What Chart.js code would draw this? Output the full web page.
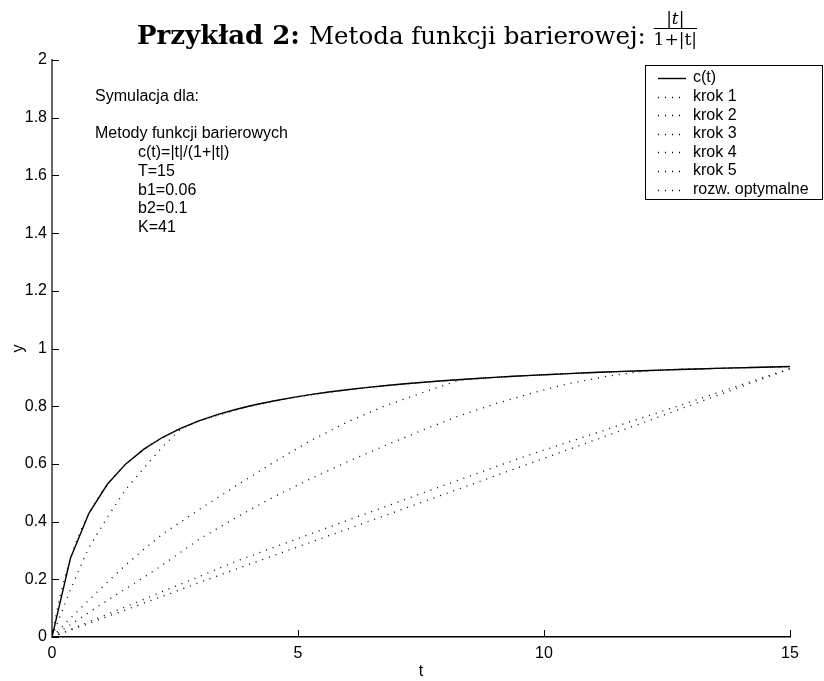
<!DOCTYPE html>
<html>
<head>
<meta charset="utf-8">
<script src="https://cdn.jsdelivr.net/npm/chart.js@4.4.0/dist/chart.umd.min.js"></script>
<style>
  html, body { margin: 0; padding: 0; background: #fff; }
</style>
</head>
<body>
<canvas id="chart" width="824" height="681"></canvas>
<script>
// c(t) sampled at K=41 points
const tC = [0, 0.375, 0.75, 1.125, 1.5, 1.875, 2.25, 2.625, 3, 3.375, 3.75, 4.125, 4.5, 4.875,
  5.25, 5.625, 6, 6.375, 6.75, 7.125, 7.5, 7.875, 8.25, 8.625, 9, 9.375, 9.75, 10.125, 10.5,
  10.875, 11.25, 11.625, 12, 12.375, 12.75, 13.125, 13.5, 13.875, 14.25, 14.625, 15];
const yC = [0, 0.2727, 0.4286, 0.5294, 0.6, 0.6522, 0.6923, 0.7241, 0.75, 0.7714, 0.7895, 0.8049,
  0.8182, 0.8298, 0.84, 0.8491, 0.8571, 0.8644, 0.871, 0.8769, 0.8824, 0.8873, 0.8919, 0.8961,
  0.9, 0.9036, 0.907, 0.9101, 0.913, 0.9158, 0.9184, 0.9208, 0.9231, 0.9252, 0.9273, 0.9292,
  0.931, 0.9327, 0.9344, 0.936, 0.9375];

// iteration steps
const tSteps = [0, 0.375, 0.75, 1.125, 1.5, 1.875, 2.25, 2.625, 3, 3.75, 4.5, 5.25, 6, 6.75,
  7.5, 8.25, 9, 9.75, 10.5, 11.25, 12, 12.75, 13.5, 14.25, 15];
const krok1 = [0, 0.024, 0.047, 0.071, 0.094, 0.118, 0.141, 0.165, 0.189, 0.236, 0.282, 0.328,
  0.374, 0.42, 0.466, 0.512, 0.558, 0.604, 0.65, 0.696, 0.742, 0.789, 0.836, 0.883, 0.93];
const krok2 = [0, 0.026, 0.053, 0.079, 0.105, 0.131, 0.158, 0.184, 0.21, 0.263, 0.31, 0.357,
  0.404, 0.45, 0.497, 0.543, 0.589, 0.634, 0.676, 0.718, 0.76, 0.802, 0.845, 0.888, 0.93];
const krok3 = [0, 0.043, 0.085, 0.127, 0.167, 0.208, 0.25, 0.295, 0.34, 0.415, 0.485, 0.548,
  0.607, 0.662, 0.715, 0.765, 0.808, 0.845, 0.878, 0.903, 0.921, 0.929, 0.931, 0.9344, 0.9375];
const krok4 = [0, 0.065, 0.128, 0.19, 0.25, 0.305, 0.357, 0.4, 0.443, 0.525, 0.605, 0.68,
  0.745, 0.8, 0.845, 0.889, 0.9, 0.907, 0.913, 0.9184, 0.9231, 0.9273, 0.931, 0.9344, 0.9375];
const krok5 = [0, 0.165, 0.31, 0.415, 0.512, 0.587, 0.66, 0.722, 0.75, 0.7895, 0.8182, 0.84,
  0.8571, 0.871, 0.8824, 0.8919, 0.9, 0.907, 0.913, 0.9184, 0.9231, 0.9273, 0.931, 0.9344, 0.9375];

// optimal solution on a finer grid
const tOpt = [0, 0.05, 0.1, 0.15, 0.2, 0.3, 0.4, 0.5, 0.625, 0.75, 1, 1.25, 1.5, 2, 2.5, 3, 4,
  5, 6, 7, 8, 9, 10, 11, 12, 13, 14, 15];
const yOpt = [0, 0.0476, 0.0909, 0.1304, 0.1667, 0.2308, 0.2857, 0.3333, 0.3846, 0.4286, 0.5,
  0.5556, 0.6, 0.6667, 0.7143, 0.75, 0.8, 0.8333, 0.8571, 0.875, 0.8889, 0.9, 0.9091, 0.9167,
  0.9231, 0.9286, 0.9333, 0.9375];

const xTicks = [0, 5, 10, 15];
const yTicks = [0, 0.2, 0.4, 0.6, 0.8, 1, 1.2, 1.4, 1.6, 1.8, 2];

const titleBold = 'Przykład 2:';
const titleRest = 'Metoda funkcji barierowej:';
const notes = ['Symulacja dla:', '', 'Metody funkcji barierowych',
  '\tc(t)=|t|/(1+|t|)', '\tT=15', '\tb1=0.06', '\tb2=0.1', '\tK=41'];

const pts = (xs, ys) => xs.map((x, i) => ({ x: x, y: ys[i] }));
const SANS = '"Liberation Sans", Arial, sans-serif';
const SERIF = '"DejaVu Serif", serif';

function dotted(label, data) {
  return {
    label: label, data: data, borderColor: '#000', borderWidth: 1.3,
    borderDash: [1, 6], pointRadius: 0, fill: false, tension: 0, order: 0
  };
}

// ticks drawn inward like the original
const inwardTicks = {
  id: 'inwardTicks',
  afterDatasetsDraw(chart) {
    const { ctx, chartArea, scales: { x, y } } = chart;
    ctx.save();
    ctx.strokeStyle = '#000';
    ctx.lineWidth = 1;
    x.ticks.forEach(t => {
      const px = Math.round(x.getPixelForValue(t.value)) + 0.5;
      ctx.beginPath();
      ctx.moveTo(px, chartArea.bottom);
      ctx.lineTo(px, chartArea.bottom - 7);
      ctx.stroke();
    });
    y.ticks.forEach(t => {
      const py = Math.round(y.getPixelForValue(t.value)) + 0.5;
      ctx.beginPath();
      ctx.moveTo(chartArea.left, py);
      ctx.lineTo(chartArea.left + 7, py);
      ctx.stroke();
    });
    ctx.restore();
  }
};

// legend box in the top right corner
const boxLegend = {
  id: 'boxLegend',
  afterDraw(chart) {
    const ctx = chart.ctx;
    const sets = chart.data.datasets;
    ctx.save();
    ctx.fillStyle = '#fff';
    ctx.fillRect(645, 65, 178, 134);
    ctx.strokeStyle = '#000';
    ctx.lineWidth = 1;
    ctx.strokeRect(645.5, 65.5, 177, 134);
    ctx.font = '16px ' + SANS;
    ctx.textBaseline = 'middle';
    ctx.fillStyle = '#000';
    sets.forEach((ds, i) => {
      const ry = 78 + i * 18.6;
      ctx.beginPath();
      ctx.setLineDash(ds.borderDash || []);
      ctx.lineWidth = ds.borderWidth;
      ctx.moveTo(658, Math.round(ry) + 0.5);
      ctx.lineTo(686, Math.round(ry) + 0.5);
      ctx.stroke();
      ctx.setLineDash([]);
      ctx.fillText(ds.label, 693, ry);
    });
    ctx.restore();
  }
};

// simulation notes and title with the fraction
const textBits = {
  id: 'textBits',
  afterDraw(chart) {
    const ctx = chart.ctx;
    ctx.save();
    ctx.fillStyle = '#000';
    ctx.font = '16px ' + SANS;
    ctx.textBaseline = 'alphabetic';
    notes.forEach((line, i) => {
      const indent = line.startsWith('\t');
      ctx.fillText(line.replace('\t', ''), indent ? 138 : 95, 101 + i * 18.7);
    });

    const fBold = 'bold 26px ' + SERIF;
    const fReg = '24.5px ' + SERIF;
    const fSmall = '17px ' + SERIF;
    ctx.font = fBold;
    const w1 = ctx.measureText(titleBold + ' ').width;
    ctx.font = fReg;
    const w2 = ctx.measureText(titleRest + ' ').width;
    ctx.font = fSmall;
    const wf = ctx.measureText('1+|t|').width;
    const total = w1 + w2 + wf;
    const x0 = 417 - total / 2;
    const base = 44;
    ctx.font = fBold;
    ctx.fillText(titleBold, x0, base);
    ctx.font = fReg;
    ctx.fillText(titleRest, x0 + w1, base);
    const fx = x0 + w1 + w2;
    const cx = fx + wf / 2;
    ctx.textAlign = 'center';
    ctx.font = fSmall;
    ctx.fillText('1+|t|', cx, base + 1);
    ctx.font = 'italic ' + fSmall;
    ctx.fillText('|t|', cx, 24);
    ctx.fillRect(fx, 28, wf, 1);
    ctx.restore();
  }
};

new Chart(document.getElementById('chart'), {
  type: 'line',
  data: {
    datasets: [
      { label: 'c(t)', data: pts(tC, yC), borderColor: '#000', borderWidth: 1.4,
        pointRadius: 0, fill: false, tension: 0, order: 1 },
      dotted('krok 1', pts(tSteps, krok1)),
      dotted('krok 2', pts(tSteps, krok2)),
      dotted('krok 3', pts(tSteps, krok3)),
      dotted('krok 4', pts(tSteps, krok4)),
      dotted('krok 5', pts(tSteps, krok5)),
      dotted('rozw. optymalne', pts(tOpt, yOpt))
    ]
  },
  options: {
    responsive: false,
    animation: false,
    events: [],
    layout: { padding: { top: 60, right: 34, left: 0, bottom: 0 } },
    plugins: { legend: { display: false }, title: { display: false }, tooltip: { enabled: false } },
    scales: {
      x: {
        type: 'linear', min: 0, max: 15,
        afterBuildTicks: s => { s.ticks = xTicks.map(v => ({ value: v })); },
        afterFit: s => { s.height = 44; },
        grid: { display: true, drawOnChartArea: false, drawTicks: false },
        border: { display: true, color: '#000', width: 1.5 },
        ticks: { color: '#000', padding: 7, maxRotation: 0, font: { family: SANS, size: 16 },
          callback: v => String(v) },
        title: { display: true, text: 't', color: '#000', padding: 0, font: { family: SANS, size: 16 } }
      },
      y: {
        type: 'linear', min: 0, max: 2,
        afterBuildTicks: s => { s.ticks = yTicks.map(v => ({ value: v })); },
        afterFit: s => { s.width = 52; },
        grid: { display: true, drawOnChartArea: false, drawTicks: false },
        border: { display: true, color: '#666', width: 2 },
        ticks: { color: '#000', padding: 5, font: { family: SANS, size: 16 },
          callback: v => String(Number(v.toFixed(1))) },
        title: { display: true, text: 'y', color: '#000', padding: { top: 9, bottom: 0 },
          font: { family: SANS, size: 16 } }
      }
    }
  },
  plugins: [inwardTicks, boxLegend, textBits]
});
</script>
</body>
</html>
